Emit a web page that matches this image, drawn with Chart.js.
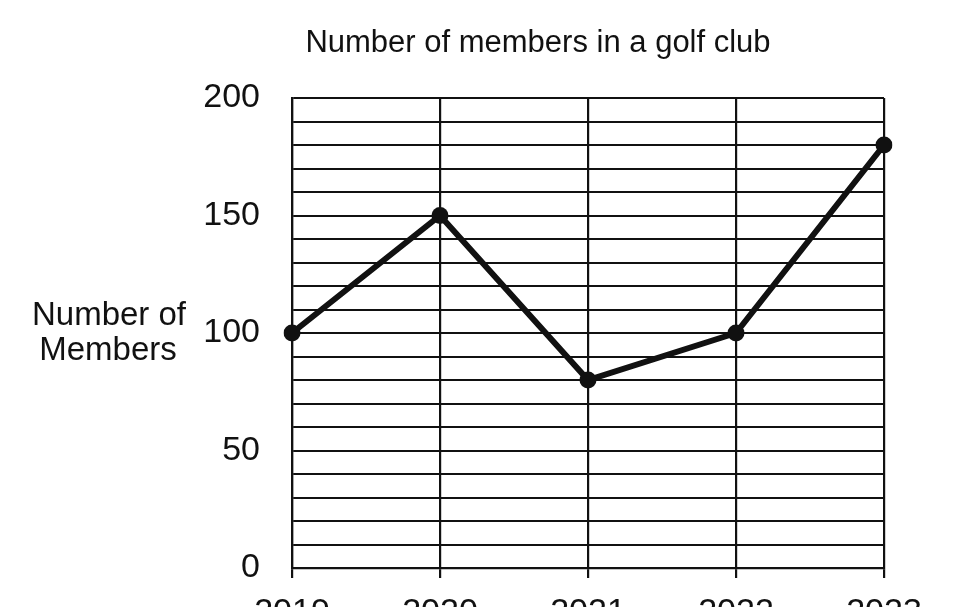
<!DOCTYPE html>
<html>
<head>
<meta charset="utf-8">
<script src="https://cdn.jsdelivr.net/npm/chart.js@4/dist/chart.umd.min.js"></script>
<style>
  html, body { margin: 0; padding: 0; background: #fff; overflow: hidden; }
  .chart-container { position: relative; width: 966px; height: 640px; }
</style>
</head>
<body>
<div class="chart-container">
  <canvas id="chart"></canvas>
</div>
<script>
const years = ['2019', '2020', '2021', '2022', '2023'];
const members = [100, 150, 80, 100, 180];
const chartTitle = 'Number of members in a golf club';
const yAxisLabel = ['Number of', 'Members'];

const FONT = '"Liberation Sans", Arial, sans-serif';
const INK = '#111';

// title and the horizontal y-axis label are drawn by hand
const textPlugin = {
  id: 'sideText',
  afterDraw(chart) {
    const ctx = chart.ctx;
    ctx.save();
    ctx.fillStyle = INK;
    ctx.textAlign = 'center';
    ctx.textBaseline = 'middle';
    ctx.font = '31px ' + FONT;
    ctx.fillText(chartTitle, 538, 43);
    ctx.font = '33px ' + FONT;
    const mid = chart.scales.y.getPixelForValue(100);
    ctx.fillText(yAxisLabel[0], 109, mid - 17);
    ctx.fillText(yAxisLabel[1], 108, mid + 18);
    ctx.restore();
  }
};

new Chart(document.getElementById('chart'), {
  type: 'line',
  data: {
    labels: years,
    datasets: [{
      data: members,
      borderColor: INK,
      backgroundColor: INK,
      borderWidth: 6,
      pointRadius: 8.5,
      pointBackgroundColor: INK,
      pointBorderWidth: 0,
      tension: 0,
      fill: false
    }]
  },
  options: {
    responsive: true,
    maintainAspectRatio: false,
    animation: false,
    layout: { padding: { top: 98, right: 82, left: 0, bottom: 0 } },
    plugins: {
      legend: { display: false },
      title: { display: false },
      tooltip: { enabled: false }
    },
    scales: {
      x: {
        offset: false,
        grid: { color: INK, lineWidth: 2.2, drawTicks: true, tickLength: 10 },
        border: { color: INK, width: 2.2 },
        ticks: { color: INK, font: { family: FONT, size: 34 }, padding: 14, maxRotation: 0 },
        afterFit(scale) { scale.height = 72; }
      },
      y: {
        min: 0,
        max: 200,
        grid: { color: INK, lineWidth: 2, drawTicks: false },
        border: { color: INK, width: 2.2 },
        ticks: {
          stepSize: 10,
          autoSkip: false,
          color: INK,
          padding: 32,
          font: { family: FONT, size: 34 },
          callback: (v) => (v % 50 === 0 ? v : '')
        },
        afterFit(scale) { scale.width = 292; }
      }
    }
  },
  plugins: [textPlugin]
});
</script>
</body>
</html>
